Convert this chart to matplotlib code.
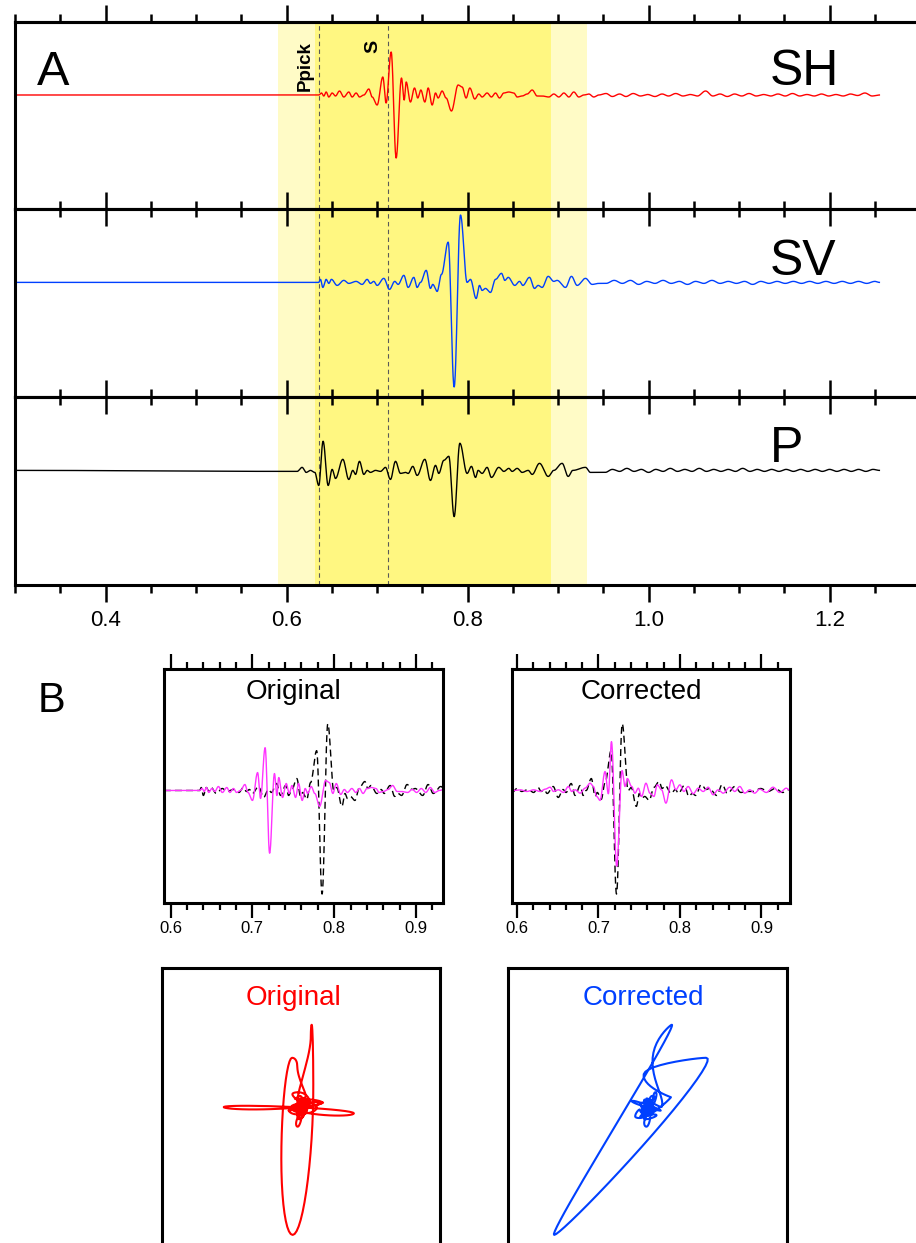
import numpy as np
import matplotlib
matplotlib.use('Agg')
import matplotlib.pyplot as plt
from matplotlib.ticker import MultipleLocator, FormatStrFormatter

# picks and windows (s)
ppick = 0.6356
s_pick = 0.7119
light_win = (0.591, 0.932)
bright_win = (0.632, 0.892)
lag = 0.063  # time shift applied to SV in the corrected panel

# SH trace, turning points (time s, amplitude)
sh_pts = [(0.300, 0), (0.6356, 0), (0.6386, 2), (0.6412, -1), (0.6438, 3), (0.6467, -2),
          (0.6504, 2), (0.6541, -1), (0.6585, 4), (0.6633, -2), (0.6688, 3), (0.6725, -2),
          (0.6769, 2), (0.6806, -2), (0.6854, 0), (0.6909, 6), (0.6946, -2), (0.7001, -10),
          (0.7064, 18), (0.7100, -8), (0.7156, 43), (0.7211, -63), (0.7270, 17), (0.7300, -5),
          (0.7322, 13), (0.7369, -7), (0.7414, 7), (0.7450, -3), (0.7484, 5), (0.7528, -7),
          (0.7565, 7), (0.7609, -10), (0.7646, 2), (0.7675, -3), (0.7719, 4), (0.7763, -3),
          (0.7822, -16), (0.7896, 10), (0.7940, 8), (0.7984, -3), (0.8025, 7), (0.8080, -4),
          (0.8124, 1), (0.8161, -2), (0.8216, 2), (0.8264, -2), (0.8309, 2), (0.8353, -3),
          (0.8401, 2), (0.8456, 3), (0.8511, 2), (0.8548, -2), (0.8603, -1), (0.8659, 1),
          (0.8714, 5), (0.8769, -1), (0.8824, -1), (0.8898, -2), (0.8953, 1), (0.9008, -2),
          (0.9064, 2), (0.9119, -2), (0.9174, 3), (0.9229, -2), (0.9285, 0), (0.9340, 1),
          (0.9395, -2), (0.9450, 0), (0.953, 1.5), (0.960, -1.5), (0.968, 1), (0.975, -1.5),
          (0.983, 1.5), (0.991, -1), (0.999, 0.5), (1.007, -1.5), (1.015, 1), (1.022, -1),
          (1.030, 1.5), (1.038, -1), (1.046, 0.5), (1.054, -1), (1.063, 4), (1.071, -1),
          (1.079, 1), (1.087, -1.5), (1.095, 1), (1.103, -1), (1.111, 1.5), (1.119, -1),
          (1.127, 0.5), (1.135, -1), (1.143, 1), (1.151, -1), (1.159, 1.5), (1.167, -1),
          (1.175, 0.5), (1.183, -1), (1.191, 1), (1.199, -1), (1.207, 0.5), (1.215, -1),
          (1.223, 1), (1.231, -0.5), (1.239, 2), (1.247, -1), (1.255, 0)]

# SV trace
sv_pts = [(0.300, 0), (0.6356, 0), (0.6375, 3), (0.6401, -5), (0.6438, 3), (0.6467, -1),
          (0.6496, 3), (0.6559, -3), (0.6633, 2), (0.6688, -1), (0.6769, 1), (0.6835, -2),
          (0.6891, 3), (0.6927, -1), (0.6964, 1), (0.7001, -3), (0.7075, 4), (0.7137, -7),
          (0.7196, 1), (0.7233, -2), (0.7296, 7), (0.7344, -5), (0.7406, 5), (0.7443, -5),
          (0.7480, 0), (0.7543, 12), (0.7590, -6), (0.7616, -2), (0.7664, -9), (0.7712, 8),
          (0.7786, 40), (0.7852, -104), (0.7922, 67), (0.7995, 0), (0.8032, 3), (0.8095, -16),
          (0.8132, -3), (0.8161, -8), (0.8198, -6), (0.8253, -10), (0.8309, 3), (0.8375, 9),
          (0.8412, 2), (0.8449, 5), (0.8522, -3), (0.8574, 1), (0.8611, -3), (0.8684, 5),
          (0.8740, -6), (0.8780, -3), (0.8824, -5), (0.8891, 6), (0.8953, 1), (0.8990, 2),
          (0.9082, -5), (0.9148, 6), (0.9211, -3), (0.9303, 4), (0.9377, -2), (0.9450, -1),
          (0.953, -1), (0.962, 2), (0.971, -1), (0.980, 2), (0.989, -2), (0.998, 1),
          (1.007, -1), (1.016, 2), (1.025, -1), (1.034, 1), (1.043, -2), (1.052, 1),
          (1.061, -1), (1.070, 2), (1.079, -1), (1.088, 1), (1.097, -1), (1.106, 1),
          (1.115, -2), (1.124, 1), (1.133, -1), (1.142, 1), (1.151, -1), (1.160, 1),
          (1.169, -1), (1.178, 1), (1.187, -1), (1.196, 1), (1.205, -1), (1.214, 1),
          (1.223, -1), (1.232, 1), (1.241, -1), (1.250, 1), (1.255, 0)]

# P trace
p_pts = [(0.300, 0), (0.6117, -1), (0.6172, 3), (0.6217, -2), (0.6264, 0), (0.6312, -2),
         (0.6356, -15), (0.6404, 29), (0.6460, -15), (0.6504, 1), (0.6541, -8), (0.6622, 11),
         (0.6688, -9), (0.6732, 0), (0.6762, -4), (0.6806, 9), (0.6854, -4), (0.6891, 0),
         (0.6927, -2), (0.6983, 0), (0.7038, -1), (0.7093, 3), (0.7148, -9), (0.7204, 9),
         (0.7259, -3), (0.7314, -2), (0.7344, -3), (0.7395, 4), (0.7443, -5), (0.7528, 11),
         (0.7590, -10), (0.7646, 5), (0.7682, -3), (0.7738, 10), (0.7793, 14), (0.7852, -46),
         (0.7915, 27), (0.7995, -3), (0.8043, 4), (0.8088, -7), (0.8117, 0), (0.8161, -3),
         (0.8216, 3), (0.8264, -7), (0.8345, 3), (0.8401, -1), (0.8456, 2), (0.8493, -1),
         (0.8548, 2), (0.8603, -2), (0.8670, 0), (0.8714, -4), (0.8795, 7), (0.8891, -6),
         (0.8953, 0), (0.9045, 7), (0.9112, -6), (0.9163, 0), (0.9303, 3), (0.9358, -2),
         (0.9450, -2), (0.952, -2), (0.960, 1), (0.968, -1), (0.976, 2), (0.984, -1),
         (0.992, 1), (1.000, -2), (1.008, 1), (1.016, -1), (1.024, 2), (1.032, -1),
         (1.040, 1), (1.048, -1), (1.056, 2), (1.064, -1), (1.072, 1), (1.080, -1),
         (1.088, 1), (1.096, -1), (1.104, 2), (1.112, -1), (1.120, 1), (1.128, -1),
         (1.136, 1), (1.144, -1), (1.152, 1), (1.160, -1), (1.168, 1), (1.176, -1),
         (1.184, 1), (1.192, -1), (1.200, 1), (1.208, -1), (1.216, 1), (1.224, -1),
         (1.232, 1), (1.240, -1), (1.248, 1), (1.255, 0)]

# corrected SH (magenta, corrected panel)
shc_pts = [(0.5959, 0), (0.6041, 0.7), (0.6122, -1), (0.6204, 0.7), (0.6286, -1), (0.6347, 1.3),
           (0.6408, 3.3), (0.6449, -1), (0.6510, 0.7), (0.6571, -2), (0.6632, 4), (0.6673, -1),
           (0.6714, 0.7), (0.6775, -2.7), (0.6836, 2.3), (0.6898, 7.3), (0.6938, 4), (0.6979, -6),
           (0.7020, -10), (0.7081, 19), (0.7122, -3.3), (0.7160, 49), (0.7224, -76), (0.7290, 20),
           (0.7326, 4), (0.7355, 12), (0.7408, 4), (0.7448, -2.7), (0.7489, 2.3), (0.7530, -6),
           (0.7583, 7.3), (0.7632, -2.7), (0.7681, -6), (0.7722, 5.7), (0.7775, 0.7), (0.7828, -12.7),
           (0.7897, 10.7), (0.7950, 0.7), (0.7999, 5.7), (0.8048, -1), (0.8101, 4), (0.8162, -3.3),
           (0.8224, 2.3), (0.8285, -1), (0.8346, 3.3), (0.8407, -4.3), (0.8468, 0.7), (0.8530, -2.7),
           (0.8611, 3.3), (0.8672, -1), (0.8734, 4), (0.8795, -2.7), (0.8856, 0.7), (0.8917, -2.7),
           (0.8978, 1.3), (0.9060, -2), (0.9142, 3.3), (0.9223, -2), (0.9305, 2.3), (0.9350, 0)]

comp_names = ['SH', 'SV', 'P']
comp_colors = ['#ff0000', '#0040ff', 'black']
b_ticks = ['0.6', '0.7', '0.8', '0.9']

W, H = 916, 1243
narrow = ['Liberation Sans Narrow', 'Liberation Sans', 'DejaVu Sans']
plt.rcParams['font.family'] = ['Liberation Sans', 'DejaVu Sans']


def smooth(pts, dt=0.0003):
    t, a = np.array(pts).T
    ts, av = [], []
    for i in range(len(t) - 1):
        n = max(int(np.ceil((t[i + 1] - t[i]) / dt)), 2)
        s = np.linspace(0, 1, n, endpoint=False)
        ts.append(t[i] + (t[i + 1] - t[i]) * s)
        av.append(a[i] + (a[i + 1] - a[i]) * (1 - np.cos(np.pi * s)) / 2)
    ts.append([t[-1]])
    av.append([a[-1]])
    return np.concatenate(ts), np.concatenate(av)


def box(x0, y0, x1, y1):
    return [x0 / W, 1 - y1 / H, (x1 - x0) / W, (y1 - y0) / H]


def set_spines(ax, lw=2.2):
    for sp in ax.spines.values():
        sp.set_linewidth(lw)


traces = [smooth(sh_pts), smooth(sv_pts), smooth(p_pts)]
shc = smooth(shc_pts)

fig = plt.figure(figsize=(W / 100, H / 100), dpi=100)

# ---- panel A ----
edges = [22, 209, 397, 585]
directions = [('in', 'out'), ('in', 'in'), ('out', 'in')]
for i in range(3):
    ax = fig.add_axes(box(15, edges[i], 921, edges[i + 1]))
    ax.axvspan(*light_win, color='#fffbc6', lw=0, zorder=0)
    ax.axvspan(*bright_win, color='#fff781', lw=0, zorder=0)
    for tp in (ppick, s_pick):
        ax.axvline(tp, color='#5a5a5a', lw=0.8, ls=(0, (4, 3)), zorder=1)
    ax.plot(traces[i][0], traces[i][1], color=comp_colors[i], lw=1.0, zorder=2)
    ax.set_xlim(0.3, 1.301)
    ax.set_ylim(-114, 73)
    ax.set_yticks([])
    ax.spines['right'].set_visible(False)
    set_spines(ax)
    bot, top = directions[i]
    ax.xaxis.set_major_locator(MultipleLocator(0.2))
    ax.xaxis.set_minor_locator(MultipleLocator(0.05))
    ax.xaxis.set_major_formatter(FormatStrFormatter('%.1f'))
    ax.tick_params(axis='x', which='major', direction=bot, length=12, width=1.8,
                   labelbottom=(i == 2), labelsize=16, pad=6, labelfontfamily=narrow)
    ax.tick_params(axis='x', which='minor', direction=bot, length=6, width=1.8)
    sec = ax.secondary_xaxis('top')
    sec.xaxis.set_major_locator(MultipleLocator(0.2))
    sec.xaxis.set_minor_locator(MultipleLocator(0.05))
    sec.tick_params(axis='x', which='major', direction=top, length=12, width=1.8, labeltop=False)
    sec.tick_params(axis='x', which='minor', direction=top, length=6, width=1.8)
    sec.spines['top'].set_linewidth(2.2)
    if i == 0:
        ax.text(ppick - 0.005, 4, 'Ppick', rotation=90, ha='right', va='bottom',
                fontsize=13.5, fontweight='bold')
        ax.text(s_pick - 0.0075, 42, 'S', rotation=90, ha='right', va='bottom',
                fontsize=14, fontweight='bold')

fig.text(37 / W, 1 - 85 / H, 'A', fontsize=35, family=narrow, va='baseline')
for i, base in enumerate([85, 275, 462]):
    fig.text(770 / W, 1 - base / H, comp_names[i], fontsize=36, family=narrow, va='baseline')
fig.text(38 / W, 1 - 712 / H, 'B', fontsize=30, va='baseline')

# ---- panel B: waveforms ----
sh_t, sh_a = traces[0]
sv_t, sv_a = traces[1]
wave_axes = [(box(164, 669, 443, 903), (0.592, 0.933), 'Original',
              (sh_t, sh_a), (sv_t, sv_a)),
             (box(512, 669, 790, 903), (0.594, 0.935), 'Corrected',
              shc, (sv_t - lag, sv_a))]
for rect, xl, title, mag, blk in wave_axes:
    ax = fig.add_axes(rect)
    ax.plot(blk[0], blk[1], color='black', lw=1.0, ls=(0, (5, 3)))
    ax.plot(mag[0], mag[1], color='#ff33ff', lw=1.0)
    ax.set_xlim(*xl)
    ax.set_ylim(-113, 122)
    ax.set_yticks([])
    set_spines(ax)
    ax.set_xticks([0.6, 0.7, 0.8, 0.9])
    ax.set_xticklabels(b_ticks)
    ax.xaxis.set_minor_locator(MultipleLocator(0.02))
    ax.tick_params(axis='x', which='major', direction='out', length=11, width=1.6,
                   top=True, labelsize=12, pad=2)
    ax.tick_params(axis='x', which='minor', direction='out', length=5, width=1.6, top=True)
    ax.text(0.464, 0.872, title, transform=ax.transAxes, ha='center', va='baseline',
            fontsize=20)

# ---- panel B: particle motion ----
grid = np.arange(0.592, 0.932, 0.0003)
hodo = [(box(162, 968, 440, 1246), 'Original', '#ff0000', 0.472,
         np.interp(grid, sh_t, sh_a), np.interp(grid, sv_t, sv_a)),
        (box(508, 968, 787, 1246), 'Corrected', '#0040ff', 0.486,
         np.interp(grid, shc[0], shc[1]), np.interp(grid, sv_t - lag, sv_a))]
for rect, title, col, tx, hx, hy in hodo:
    ax = fig.add_axes(rect)
    ax.plot(hx, hy, color=col, lw=1.5)
    ax.set_xlim(-113, 113)
    ax.set_ylim(-113, 113)
    ax.set_xticks([])
    ax.set_yticks([])
    set_spines(ax)
    ax.text(tx, 0.867, title, transform=ax.transAxes, ha='center', va='baseline',
            fontsize=20, color=col)

fig.savefig('out.png', dpi=100)
